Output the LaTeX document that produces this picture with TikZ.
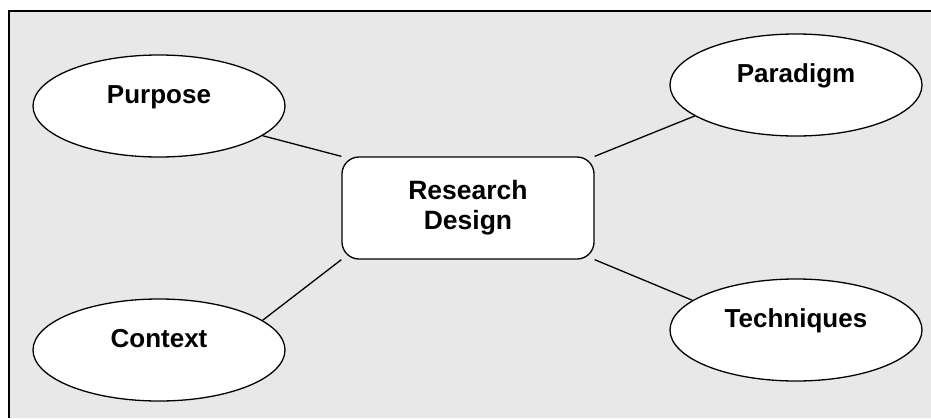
\documentclass[tikz,border=0pt]{standalone}
\usepackage{fontspec}
\setmainfont{Liberation Sans}
\usetikzlibrary{shapes.geometric}

\begin{document}
\begin{tikzpicture}[x=1pt,y=-1pt,
	topic/.style={ellipse, draw=black, line width=1.3pt, fill=white, inner sep=0pt,
		minimum width=252pt, minimum height=102pt, text height=18pt, text depth=24pt,
		font=\fontsize{26}{30}\selectfont\bfseries},
	core/.style={rectangle, rounded corners=17pt, draw=black, line width=1.3pt, fill=white,
		minimum width=252pt, minimum height=102pt, align=center,
		font=\fontsize{26.5}{30}\selectfont\bfseries},
	link/.style={draw=black, line width=1.3pt}]
	\useasboundingbox (0,0) rectangle (931,418);
	\fill[color=black!9] (9,11) rectangle (931,418);
	\draw[line width=1.8pt] (9,418) -- (9,11) -- (931,11);

	\node[core] (design) at (468,208) {Research\\Design};
	\node[topic] (purpose) at (159,106) {Purpose};
	\node[topic] (paradigm) at (796,85) {Paradigm};
	\node[topic] (context) at (159,350) {Context};
	\node[topic] (techniques) at (796,330) {Techniques};

	\draw[link] (purpose.-16) -- (design.north west);
	\draw[link] (paradigm.197) -- (design.north east);
	\draw[link] (context.16) -- (design.south west);
	\draw[link] (techniques.164) -- (design.south east);
\end{tikzpicture}
\end{document}
